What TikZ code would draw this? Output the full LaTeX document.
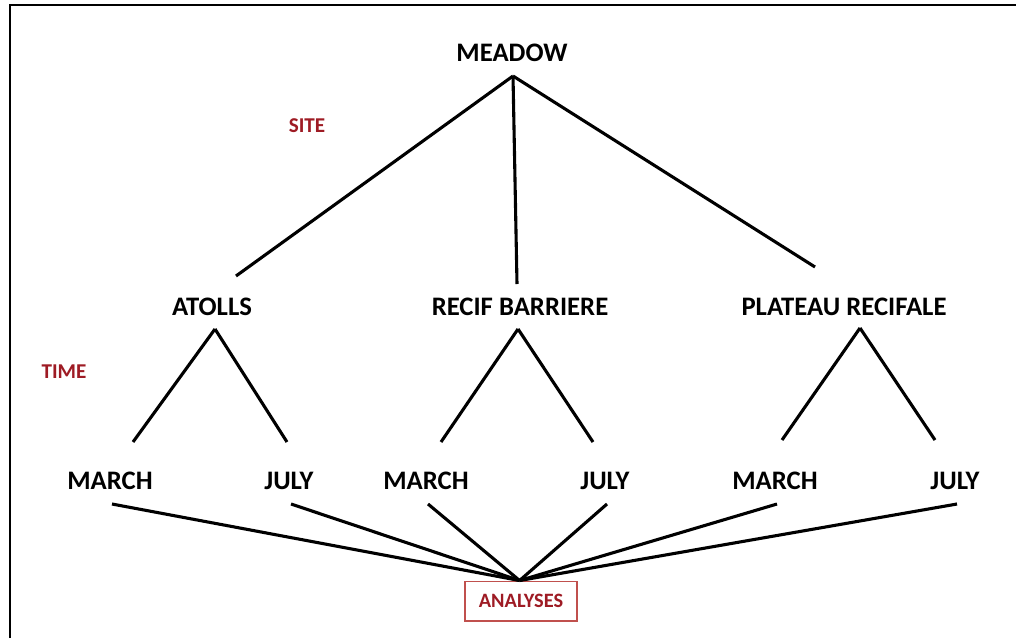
\documentclass[tikz,border=0pt]{standalone}
\usepackage{fontspec}
\setmainfont{Carlito}
\usepackage{xcolor}
\usepackage{tikz}
\usetikzlibrary{calc,positioning}

\definecolor{labelred}{HTML}{9E1B24}
\definecolor{boxred}{HTML}{C0504D}

\begin{document}
\begin{tikzpicture}[
    x=0.025cm, y=-0.025cm,
    level/.style={inner sep=0pt, font=\fontsize{19}{21}\selectfont\bfseries},
    factor/.style={inner sep=0pt, text=labelred, font=\fontsize{15}{17}\selectfont\bfseries},
    result/.style={rectangle, draw=boxred, line width=1.4pt, text=labelred, minimum width=2.8cm, minimum height=0.975cm, inner sep=0pt, font=\fontsize{14.5}{16}\selectfont\bfseries},
    link/.style={draw, line width=2.2pt}
]
\useasboundingbox (0,0) rectangle (1016,638);
\draw[line width=1.5pt] (10,638) |- (1016,5);

\node[level] (meadow) at (512,53) {MEADOW};
\node[level] (atolls) at (212,307) {ATOLLS};
\node[level] (recif) at (520,307) {RECIF BARRIERE};
\node[level] (plateau) at (844,307) {PLATEAU RECIFALE};

\node[level] (march1) at (110,481) {MARCH};
\node[level] (july1) at (289,481) {JULY};
\node[level] (march2) at (426,481) {MARCH};
\node[level] (july2) at (605,481) {JULY};
\node[level] (march3) at (775,481) {MARCH};
\node[level] (july3) at (955,481) {JULY};

\node[factor] (site) at (307,126) {SITE};
\node[factor] (time) at (64,372) {TIME};
\node[result] (analyses) at (521,601) {ANALYSES};

\draw[link] ($(meadow)+(1,23)$) -- ($(atolls)+(24,-31)$);
\draw[link] ($(meadow)+(1,23)$) -- ($(recif)+(-3,-23)$);
\draw[link] ($(meadow)+(1,23)$) -- ($(plateau)+(-29,-40)$);

\draw[link] ($(atolls)+(3,22)$) -- ($(march1)+(23,-39)$);
\draw[link] ($(atolls)+(3,22)$) -- ($(july1)+(-2,-39)$);
\draw[link] ($(recif)+(-2,22)$) -- ($(march2)+(15,-39)$);
\draw[link] ($(recif)+(-2,22)$) -- ($(july2)+(-12,-39)$);
\draw[link] ($(plateau)+(16,21)$) -- ($(march3)+(7,-41)$);
\draw[link] ($(plateau)+(16,21)$) -- ($(july3)+(-20,-41)$);

\foreach \m in {march1,july1,march2,july2,march3,july3}
    \draw[link] ($(\m)+(2,23)$) -- ([xshift=-1]analyses.north);

\end{tikzpicture}
\end{document}
